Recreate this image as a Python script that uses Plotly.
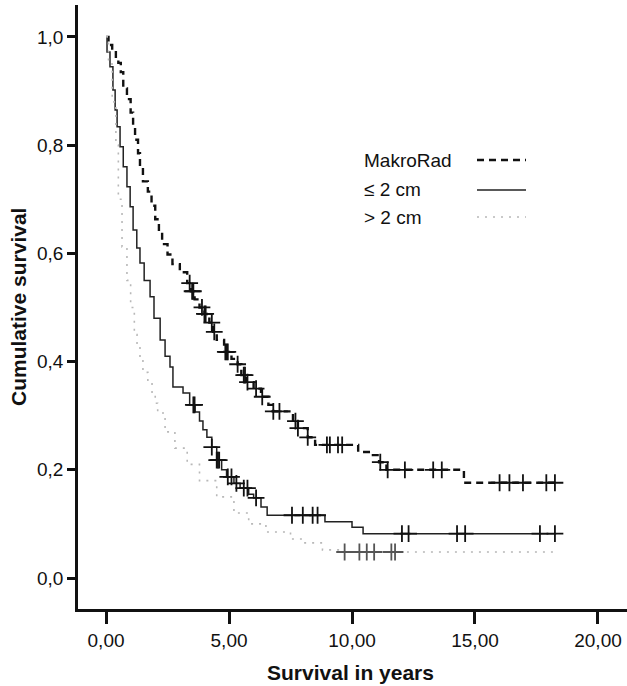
import numpy as np
import plotly.graph_objects as go

# Kaplan-Meier step data: event times (years) and survival after each step
makro_t = [0.0, 0.1, 0.25, 0.4, 0.5, 0.6, 0.7, 0.85, 1.0, 1.1, 1.18, 1.3, 1.38, 1.5,
           1.7, 1.85, 2.0, 2.15, 2.28, 2.5, 2.7, 3.0, 3.3, 3.45, 3.6, 3.8, 4.0, 4.2,
           4.35, 4.5, 4.8, 5.1, 5.35, 5.5, 5.7, 6.0, 6.3, 6.6, 6.8, 7.6, 7.8, 8.2,
           8.5, 10.25, 10.85, 11.1, 11.4, 14.55]
makro_s = [1.0, 0.985, 0.975, 0.96, 0.952, 0.935, 0.905, 0.885, 0.86, 0.835, 0.81,
           0.785, 0.76, 0.733, 0.714, 0.688, 0.663, 0.64, 0.617, 0.598, 0.58, 0.565,
           0.545, 0.53, 0.515, 0.5, 0.488, 0.472, 0.455, 0.44, 0.418, 0.405, 0.395,
           0.375, 0.362, 0.35, 0.335, 0.32, 0.308, 0.29, 0.277, 0.26, 0.246, 0.233,
           0.227, 0.214, 0.2, 0.176]
makro_end = 18.3
makro_cens = [3.4, 3.5, 3.55, 3.9, 4.0, 4.05, 4.3, 4.4, 4.85, 4.9, 4.95, 5.35, 5.6,
              5.65, 5.75, 6.1, 6.35, 6.8, 7.05, 7.7, 7.8, 8.2, 8.98, 9.1, 9.43, 9.6,
              11.15, 11.45, 12.15, 13.3, 13.65, 16.0, 16.4, 16.95, 17.9, 18.25]

small_t = [0.0, 0.04, 0.16, 0.28, 0.37, 0.45, 0.57, 0.7, 0.85, 0.98, 1.1, 1.25, 1.38,
           1.55, 1.79, 1.95, 2.2, 2.4, 2.6, 2.72, 3.13, 3.4, 3.62, 3.8, 3.94, 4.1,
           4.3, 4.5, 4.7, 4.9, 5.2, 5.45, 5.8, 6.0, 6.3, 6.55, 8.9, 10.0, 10.45]
small_s = [1.0, 0.972, 0.945, 0.902, 0.865, 0.834, 0.797, 0.76, 0.723, 0.686, 0.643,
           0.61, 0.582, 0.55, 0.52, 0.48, 0.44, 0.41, 0.39, 0.353, 0.342, 0.32, 0.307,
           0.29, 0.274, 0.26, 0.242, 0.218, 0.2, 0.187, 0.175, 0.166, 0.155, 0.148,
           0.131, 0.116, 0.104, 0.094, 0.082]
small_end = 18.3
small_cens = [3.55, 3.6, 4.3, 4.5, 4.55, 4.6, 4.95, 5.1, 5.3, 5.6, 5.75, 6.1, 7.56,
              8.0, 8.4, 8.6, 12.03, 12.3, 14.27, 14.6, 17.64, 18.25]

large_t = [0.0, 0.1, 0.25, 0.4, 0.5, 0.65, 0.85, 1.0, 1.15, 1.26, 1.38, 1.5, 1.7,
           1.87, 2.0, 2.1, 2.4, 2.8, 3.3, 3.8, 4.5, 5.2, 5.8, 6.5, 7.5, 8.0, 8.8, 9.5]
large_s = [1.0, 0.95, 0.88, 0.8, 0.7, 0.612, 0.55, 0.5, 0.45, 0.434, 0.41, 0.38,
           0.362, 0.342, 0.323, 0.305, 0.27, 0.24, 0.21, 0.18, 0.15, 0.12, 0.1,
           0.085, 0.072, 0.065, 0.052, 0.048]
large_end = 18.4
large_cens = [9.7, 10.3, 10.6, 10.9, 11.6, 11.75]

x_ticks = [0, 5, 10, 15, 20]
x_labels = ["0,00", "5,00", "10,00", "15,00", "20,00"]
y_ticks = [0.0, 0.2, 0.4, 0.6, 0.8, 1.0]
y_labels = ["0,0", "0,2", "0,4", "0,6", "0,8", "1,0"]

legend_names = ["MakroRad", "\u2264 2 cm", "> 2 cm"]

FONT = "Liberation Sans, Arial, sans-serif"
W, H = 627, 686
ML, MR, MT, MB = 78, 0, 5, 77
PW, PH = W - ML - MR, H - MT - MB


def step_at(times, surv, t):
    i = np.searchsorted(np.asarray(times), t, side="right") - 1
    return surv[max(i, 0)]


def px(x):
    return (x - ML) / PW


def py(y):
    return (H - MB - y) / PH


styles = [dict(color="#111111", width=2.4, dash="7px,5px"),
          dict(color="#222222", width=1.5),
          dict(color="#b8b8b8", width=1.6, dash="2px,6px")]
marker_cols = ["#111111", "#111111", "#555555"]
groups = [(makro_t, makro_s, makro_end, makro_cens),
          (small_t, small_s, small_end, small_cens),
          (large_t, large_s, large_end, large_cens)]

fig = go.Figure()
for (ts, ss, end, cens), st, mcol, name in zip(groups, styles, marker_cols, legend_names):
    fig.add_trace(go.Scatter(
        x=list(ts) + [end], y=list(ss) + [ss[-1]],
        mode="lines", line=dict(shape="hv", **st),
        name=name, showlegend=False, hoverinfo="skip"))
    fig.add_trace(go.Scatter(
        x=cens, y=[step_at(ts, ss, c) for c in cens],
        mode="markers",
        marker=dict(symbol="cross-thin", size=12, line=dict(color=mcol, width=1.8)),
        showlegend=False, hoverinfo="skip"))

# legend: label on the left, line sample on the right
legend_y = [160, 190, 217]
for name, ly, st in zip(legend_names, legend_y, styles):
    fig.add_annotation(x=px(362), y=py(ly), xref="paper", yref="paper",
                       text=name, showarrow=False, xanchor="left", yanchor="middle",
                       font=dict(family=FONT, size=19, color="#111111"))
    fig.add_shape(type="line", xref="paper", yref="paper",
                  x0=px(477), x1=px(526), y0=py(ly), y1=py(ly),
                  line=dict(color=st["color"], width=st["width"], dash=st.get("dash", "solid")))

fig.update_layout(
    width=W, height=H,
    margin=dict(l=ML, r=MR, t=MT, b=MB),
    paper_bgcolor="white", plot_bgcolor="white",
    font=dict(family=FONT, size=19, color="#111111"),
    xaxis=dict(range=[-1.14, 21.18], tickvals=x_ticks, ticktext=x_labels,
               showgrid=False, zeroline=False, showline=True, linecolor="#111111",
               linewidth=2.5, ticks="outside", ticklen=12, tickwidth=2.5,
               tickcolor="#111111", tickfont=dict(size=19), title=None),
    yaxis=dict(range=[-0.0573, 1.059], tickvals=y_ticks, ticktext=y_labels,
               showgrid=False, zeroline=False, showline=True, linecolor="#111111",
               linewidth=2.5, ticks="outside", ticklen=8, tickwidth=2.5,
               tickcolor="#111111", tickfont=dict(size=19), title=None),
    showlegend=False,
)

fig.add_annotation(x=px(350), y=py(672), xref="paper", yref="paper",
                   text="<b>Survival in years</b>", showarrow=False,
                   xanchor="center", yanchor="middle",
                   font=dict(family=FONT, size=21, color="#111111"))
fig.add_annotation(x=px(18), y=py(307), xref="paper", yref="paper",
                   text="<b>Cumulative survival</b>", showarrow=False, textangle=-90,
                   xanchor="center", yanchor="middle",
                   font=dict(family=FONT, size=21, color="#111111"))

fig.write_html("out.html")
